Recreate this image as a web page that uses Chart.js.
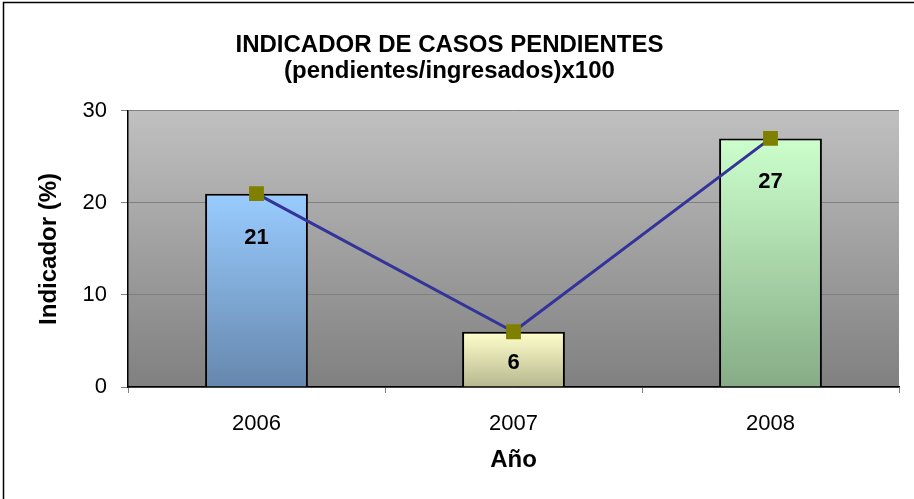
<!DOCTYPE html>
<html>
<head>
<meta charset="utf-8">
<script src="https://cdn.jsdelivr.net/npm/chart.js@4/dist/chart.umd.min.js"></script>
<style>
	html, body { margin: 0; padding: 0; background: #fff; }
	#grafico { display: block; }
</style>
</head>
<body>
<canvas id="grafico" width="914" height="499"></canvas>
<script>
var anos = ['2006', '2007', '2008'];
var indicador = [21, 6, 27];
var ticksY = [0, 10, 20, 30];
var coresTopo = ['#99ccff', '#ffffcc', '#ccffcc'];
var coresBase = ['#6687ad', '#b8b890', '#86ac86'];

var fonte = 'Arial, "Liberation Sans", sans-serif';

function degradeBarra(context) {
	var chart = context.chart;
	var i = context.dataIndex;
	if (!chart.chartArea || i === undefined) return coresTopo[0];
	var y = chart.scales.y;
	var g = chart.ctx.createLinearGradient(0, y.getPixelForValue(indicador[i]), 0, y.getPixelForValue(0));
	g.addColorStop(0, coresTopo[i]);
	g.addColorStop(1, coresBase[i]);
	return g;
}

// fundo cinza da area do grafico e moldura
var fundo = {
	id: 'fundo',
	beforeDraw: function(chart) {
		var ctx = chart.ctx;
		var a = chart.chartArea;
		ctx.save();
		ctx.strokeStyle = '#000';
		ctx.lineWidth = 1.5;
		ctx.strokeRect(3.5, 2.5, 2000, 2000);
		var g = ctx.createLinearGradient(0, a.top, 0, a.bottom);
		g.addColorStop(0, '#c0c0c0');
		g.addColorStop(1, '#808080');
		ctx.fillStyle = g;
		ctx.fillRect(a.left, a.top, a.right - a.left, a.bottom - a.top);
		ctx.restore();
	}
};

// rotulos dos valores dentro das barras
var rotulos = {
	id: 'rotulos',
	afterDatasetsDraw: function(chart) {
		var ctx = chart.ctx;
		var meta = chart.getDatasetMeta(1);
		ctx.save();
		ctx.font = 'bold 22px ' + fonte;
		ctx.fillStyle = '#000';
		ctx.textAlign = 'center';
		ctx.textBaseline = 'middle';
		meta.data.forEach(function(barra, i) {
			var altura = barra.base - barra.y;
			var desloc = Math.min(44, altura / 2 + 4);
			ctx.fillText(String(indicador[i]), barra.x, barra.y + desloc);
		});
		ctx.restore();
	}
};

var grafico = new Chart(document.getElementById('grafico').getContext('2d'), {
	data: {
		labels: anos,
		datasets: [{
			type: 'line',
			label: 'Indicador',
			data: indicador,
			order: 0,
			borderColor: '#333399',
			borderWidth: 3,
			pointStyle: 'rect',
			pointRadius: 10.5,
			pointHoverRadius: 10.5,
			pointBackgroundColor: '#808000',
			pointBorderColor: '#808000',
			pointBorderWidth: 0
		},
		{
			type: 'bar',
			label: 'Indicador',
			data: indicador,
			order: 1,
			backgroundColor: degradeBarra,
			borderColor: '#000',
			borderWidth: 2,
			barPercentage: 0.4,
			categoryPercentage: 1
		}]
	},
	options: {
		responsive: false,
		animation: false,
		layout: { padding: { left: 0, right: 15, top: 0, bottom: 0 } },
		plugins: {
			legend: { display: false },
			tooltip: { enabled: false },
			title: {
				display: true,
				text: ['INDICADOR DE CASOS PENDIENTES', '(pendientes/ingresados)x100'],
				color: '#000',
				font: { family: fonte, size: 24, weight: 'bold', lineHeight: 1.1 },
				padding: { top: 32, bottom: 26 }
			}
		},
		scales: {
			x: {
				offset: true,
				border: { color: '#000', width: 1.5 },
				grid: { offset: true, drawOnChartArea: false, tickLength: 6, tickColor: '#808080' },
				ticks: { color: '#000', padding: 18, font: { family: fonte, size: 22 } },
				title: {
					display: true,
					text: 'Año',
					color: '#000',
					font: { family: fonte, size: 24, weight: 'bold', lineHeight: 1.2 },
					padding: { top: 0, bottom: 24 }
				},
				afterFit: function(scale) { scale.height = 112; }
			},
			y: {
				min: 0,
				max: 30,
				afterBuildTicks: function(scale) {
					scale.ticks = ticksY.map(function(v) { return { value: v }; });
				},
				border: { color: '#000', width: 1.5 },
				grid: { color: '#808080', lineWidth: 1, tickLength: 7, tickColor: '#808080' },
				ticks: { color: '#000', padding: 14, font: { family: fonte, size: 22 } },
				title: {
					display: true,
					text: 'Indicador (%)',
					color: '#000',
					font: { family: fonte, size: 24, weight: 'bold', lineHeight: 1.2 },
					padding: { top: 35, bottom: 0 }
				},
				afterFit: function(scale) { scale.width = 128; }
			}
		}
	},
	plugins: [fundo, rotulos]
});
</script>
</body>
</html>
